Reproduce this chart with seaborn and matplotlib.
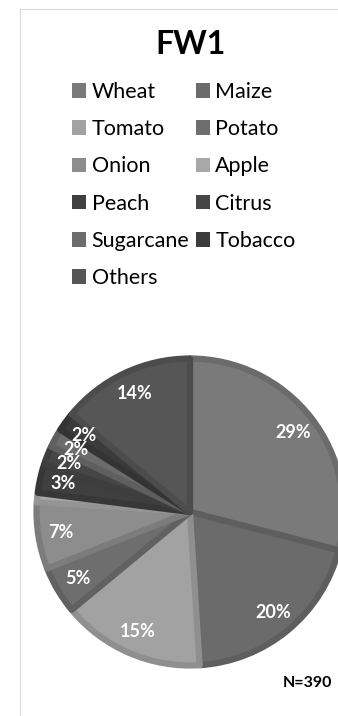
import matplotlib
matplotlib.use("Agg")
import matplotlib.pyplot as plt
import matplotlib.colors as mcolors
from matplotlib.patches import Patch, Rectangle
import seaborn as sns

# Crop shares for FW1 (percent of N=390 respondents)
crops = ["Wheat", "Maize", "Tomato", "Potato", "Onion", "Apple",
         "Peach", "Citrus", "Sugarcane", "Tobacco", "Others"]
shares = [29, 20, 15, 5, 7, 1, 3, 2, 2, 2, 14]
grays = ["#7a7a7a", "#6b6b6b", "#a2a2a2", "#6e6e6e", "#8d8d8d", "#a8a8a8",
         "#3f3f3f", "#464646", "#6c6c6c", "#3b3b3b", "#565656"]
hidden_labels = ["Apple"]
title = "FW1"
sample_note = "N=390"

sns.set_theme(style="white")
plt.rcParams["font.family"] = ["Lato", "DejaVu Sans"]
plt.rcParams["text.color"] = "black"

W, H = 338, 716
fig = plt.figure(figsize=(W / 100, H / 100), dpi=100)
fig.patch.set_facecolor("white")

# light chart-area frame
fig.patches.append(Rectangle((20 / W, -0.1), 1.2, (H - 9) / H + 0.1,
                             transform=fig.transFigure, fill=False,
                             edgecolor="#d9d9d9", linewidth=0.8))

cx, cy, r = 190, 512, 155
ax = fig.add_axes([(cx - r) / W, (H - cy - r) / H, 2 * r / W, 2 * r / H])
ax.set_aspect("equal")


def pct_text(label_iter):
    def fmt(p):
        name = next(label_iter)
        return "" if name in hidden_labels else f"{p:.0f}%"
    return fmt


wedges, texts, autotexts = ax.pie(
    shares, colors=grays, startangle=90, counterclock=False, radius=1,
    autopct=pct_text(iter(crops)), pctdistance=0.85,
    wedgeprops=dict(linewidth=4.5),
    textprops=dict(color="white", fontsize=13, fontweight="bold"),
)
# inner bevel: darker edge clipped to each wedge
for w, c in zip(wedges, grays):
    rgb = mcolors.to_rgb(c)
    w.set_edgecolor(tuple(v * 0.88 for v in rgb))
    w.set_joinstyle("round")
    w.set_clip_path(w)
ax.set_xlim(-1.01, 1.01)
ax.set_ylim(-1.01, 1.01)
ax.axis("off")

fig.text(cx / W, 1 - 44 / H, title, ha="center", va="center",
         fontsize=23, fontweight="bold", color="black")

handles = [Patch(facecolor=c, edgecolor="none") for c in grays]
order = [0, 2, 4, 6, 8, 10, 1, 3, 5, 7, 9]
leg = fig.legend([handles[i] for i in order], [crops[i] for i in order],
                 ncol=2, loc="upper left", bbox_to_anchor=(72 / W, 1 - 82 / H),
                 frameon=False, fontsize=15.5, handlelength=0.66, handleheight=0.66,
                 handletextpad=0.25, columnspacing=0.3, labelspacing=0.8,
                 borderpad=0, borderaxespad=0)
for t in leg.get_texts():
    t.set_color("black")

fig.text(283 / W, 1 - 683 / H, sample_note, ha="left", va="center",
         fontsize=11.5, fontweight="bold", color="black")

fig.savefig("out.png", dpi=100)
